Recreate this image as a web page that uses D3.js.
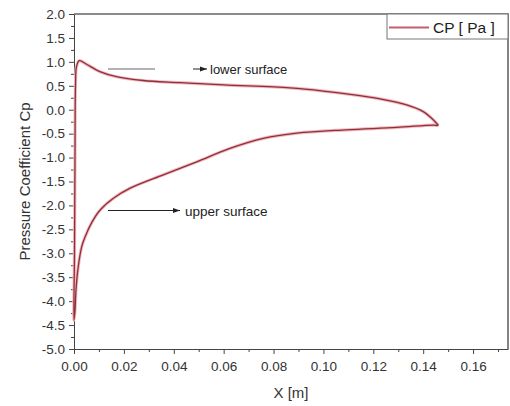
<!DOCTYPE html>
<html>
<head>
<meta charset="utf-8">
<script src="https://cdn.jsdelivr.net/npm/d3@7"></script>
<style>
  body { margin: 0; background: #fff; }
  svg { font-family: "Liberation Sans", Arial, sans-serif; }
  .tick text { fill: #333; font-size: 13.5px; }
  .tick line, .domain { stroke: #444; }
</style>
</head>
<body>
<svg id="chart" width="510" height="406"></svg>
<script>
// pressure coefficient loop
// upper surface (TE -> LE), stagnation line, lower surface (LE -> TE)
const xPos = [
  0.1461, 0.1441, 0.1294, 0.1093, 0.0893, 0.0759, 0.0625, 0.0492, 0.0358, 0.0225,
  0.0158, 0.0104, 0.0072, 0.0045, 0.0031, 0.0017, 0.0008, 0.0004, 0.0000,
  0.0002, 0.0004, 0.0006, 0.0010,
  0.0021, 0.0050, 0.0104, 0.0170, 0.0277, 0.0425, 0.0600, 0.0866, 0.1000, 0.1093,
  0.1227, 0.1334, 0.1400, 0.1440, 0.1461
];
const cpVals = [
  -0.33, -0.32, -0.37, -0.42, -0.49, -0.60, -0.81, -1.09, -1.36, -1.64,
  -1.85, -2.10, -2.35, -2.65, -2.86, -3.28, -3.76, -4.20, -4.40,
  -3.00, -1.00, 0.50, 0.90,
  1.025, 0.95, 0.795, 0.69, 0.61, 0.566, 0.518, 0.455, 0.39, 0.33,
  0.225, 0.10, -0.04, -0.21, -0.33
];
const xMajor = [0, 0.02, 0.04, 0.06, 0.08, 0.10, 0.12, 0.14, 0.16];
const xMinor = [0.01, 0.03, 0.05, 0.07, 0.09, 0.11, 0.13, 0.15, 0.17];
const yMajor = [-5, -4.5, -4, -3.5, -3, -2.5, -2, -1.5, -1, -0.5, 0, 0.5, 1, 1.5, 2];
const yMinor = [-4.75, -4.25, -3.75, -3.25, -2.75, -2.25, -1.75, -1.25, -0.75, -0.25, 0.25, 0.75, 1.25, 1.75];

const L = 74, R = 508, T = 14, B = 349;

const svg = d3.select("#chart");

const x = d3.scaleLinear().domain([0, 0.174]).range([L, R]);
const y = d3.scaleLinear().domain([-5, 2]).range([B, T]);

// frame (top + right)
svg.append("path")
    .attr("d", `M${L},${T}H${R}V${B}`)
    .attr("fill", "none")
    .attr("stroke", "#666")
    .attr("stroke-width", 1.6);

// minor ticks
svg.append("g")
    .attr("transform", `translate(0,${B})`)
    .call(d3.axisBottom(x).tickValues(xMinor).tickSize(3).tickFormat(""))
    .call(g => g.select(".domain").remove());
svg.append("g")
    .attr("transform", `translate(${L},0)`)
    .call(d3.axisLeft(y).tickValues(yMinor).tickSize(3).tickFormat(""))
    .call(g => g.select(".domain").remove());

// major axes
svg.append("g")
    .attr("transform", `translate(0,${B})`)
    .call(d3.axisBottom(x).tickValues(xMajor).tickSize(5).tickSizeOuter(0)
        .tickPadding(7).tickFormat(d => d.toFixed(2)));

svg.append("g")
    .attr("transform", `translate(${L},0)`)
    .call(d3.axisLeft(y).tickValues(yMajor).tickSize(5).tickSizeOuter(0)
        .tickPadding(4).tickFormat(d => d.toFixed(1)));

// axis titles
svg.append("text")
    .attr("x", (L + R) / 2).attr("y", 398)
    .attr("text-anchor", "middle")
    .attr("font-size", 15).attr("fill", "#333")
    .text("X [m]");

svg.append("text")
    .attr("transform", `translate(30,${(T + B) / 2}) rotate(-90)`)
    .attr("text-anchor", "middle")
    .attr("font-size", 15).attr("fill", "#333")
    .text("Pressure Coefficient Cp");

// the curve
const pts = xPos.map((v, i) => [v, cpVals[i]]);
const line = d3.line()
    .x(d => x(d[0]))
    .y(d => y(d[1]))
    .curve(d3.curveCatmullRom.alpha(0.5));

svg.append("path")
    .datum(pts)
    .attr("d", line)
    .attr("fill", "none")
    .attr("stroke", "#f2b8bd")
    .attr("stroke-width", 3.2);
svg.append("path")
    .datum(pts)
    .attr("d", line)
    .attr("fill", "none")
    .attr("stroke", "#8e2f3a")
    .attr("stroke-width", 1.3);

// arrows
svg.append("defs").append("marker")
    .attr("id", "arr")
    .attr("viewBox", "0 0 10 10")
    .attr("refX", 10).attr("refY", 5)
    .attr("markerWidth", 7).attr("markerHeight", 7)
    .attr("orient", "auto")
    .append("path")
    .attr("d", "M0,1.5L10,5L0,8.5Z")
    .attr("fill", "#222");

svg.append("line")
    .attr("x1", 108).attr("x2", 155).attr("y1", 69).attr("y2", 69)
    .attr("stroke", "#666").attr("stroke-width", 1.2);
svg.append("line")
    .attr("x1", 193).attr("x2", 207).attr("y1", 69).attr("y2", 69)
    .attr("stroke", "#222").attr("stroke-width", 1)
    .attr("marker-end", "url(#arr)");
svg.append("text")
    .attr("x", 210).attr("y", 73.5)
    .attr("font-size", 13).attr("fill", "#222")
    .text("lower surface");

svg.append("line")
    .attr("x1", 108).attr("x2", 180).attr("y1", 210.5).attr("y2", 210.5)
    .attr("stroke", "#222").attr("stroke-width", 1)
    .attr("marker-end", "url(#arr)");
svg.append("text")
    .attr("x", 185).attr("y", 215.5)
    .attr("font-size", 13.5).attr("fill", "#222")
    .text("upper surface");

// legend
const lg = svg.append("g");
lg.append("rect")
    .attr("x", 387).attr("y", T).attr("width", R - 387).attr("height", 25)
    .attr("fill", "#fff").attr("stroke", "#777").attr("stroke-width", 1);
lg.append("line")
    .attr("x1", 389).attr("x2", 429).attr("y1", 27.5).attr("y2", 27.5)
    .attr("stroke", "#c0606c").attr("stroke-width", 2);
lg.append("text")
    .attr("x", 433).attr("y", 33)
    .attr("font-size", 15.5).attr("fill", "#222")
    .text("CP [ Pa ]");
</script>
</body>
</html>
